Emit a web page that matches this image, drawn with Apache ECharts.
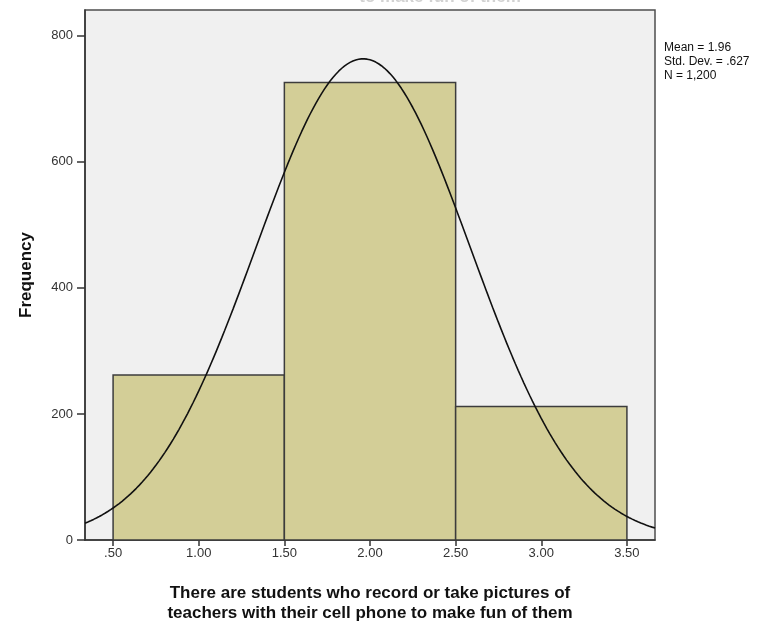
<!DOCTYPE html>
<html>
<head>
<meta charset="utf-8">
<script src="https://cdn.jsdelivr.net/npm/echarts@6/dist/echarts.min.js"></script>
<style>
  html, body { margin: 0; padding: 0; background: #fff; }
  #chart { width: 774px; height: 625px; }
</style>
</head>
<body>
<div id="chart"></div>
<script>
// Histogram bins (lower edge, upper edge) and their frequencies
const binStarts = [0.5, 1.5, 2.5];
const binEnds = [1.5, 2.5, 3.5];
const frequencies = [262, 726, 212];

// Summary statistics shown in the side note
const meanValue = 1.96;
const stdDev = 0.627;
const countN = 1200;

// Axis tick positions
const xTicks = [0.5, 1.0, 1.5, 2.0, 2.5, 3.0, 3.5];
const yTicks = [0, 200, 400, 600, 800];

const FONT = 'Liberation Sans, Arial, sans-serif';
const xMin = 0.336, xMax = 3.664;

// Fitted normal curve scaled to counts (N * bin width * density)
const binWidth = 1;
const curve = [];
for (let i = 0; i <= 200; i++) {
  const x = xMin + (xMax - xMin) * i / 200;
  const z = (x - meanValue) / stdDev;
  curve.push([x, countN * binWidth * Math.exp(-0.5 * z * z) / (stdDev * Math.sqrt(2 * Math.PI))]);
}

const bars = binStarts.map((s, i) => [s, binEnds[i], frequencies[i]]);

const chart = echarts.init(document.getElementById('chart'));
chart.setOption({
  animation: false,
  backgroundColor: '#ffffff',
  title: {
    text: 'to make fun of them',
    left: 435, top: -16, textAlign: 'center',
    textStyle: { fontFamily: FONT, fontSize: 17, fontWeight: 'bold', color: '#d2d2d2' }
  },
  grid: {
    left: 85, right: 119, top: 10, bottom: 85,
    outerBoundsMode: 'none', containLabel: false,
    show: true, backgroundColor: '#f0f0f0', borderColor: '#4d4d4d', borderWidth: 1.5
  },
  xAxis: {
    type: 'value', min: xMin, max: xMax,
    splitLine: { show: false },
    axisLine: { show: true, onZero: false, lineStyle: { color: '#333', width: 1.5 } },
    axisTick: { show: true, customValues: xTicks, length: 6, lineStyle: { color: '#333', width: 1.5 } },
    axisLabel: {
      customValues: xTicks, margin: 7, fontFamily: FONT, fontSize: 13, color: '#333',
      formatter: v => v.toFixed(2).replace(/^0/, '')
    },
    name: 'There are students who record or take pictures of\nteachers with their cell phone to make fun of them',
    nameLocation: 'middle', nameGap: 43,
    nameTextStyle: { fontFamily: FONT, fontSize: 17, fontWeight: 'bold', color: '#111', lineHeight: 20 }
  },
  yAxis: {
    type: 'value', min: 0, max: 841,
    splitLine: { show: false },
    axisLine: { show: true, lineStyle: { color: '#333', width: 1.5 } },
    axisTick: { show: true, customValues: yTicks, length: 8, lineStyle: { color: '#333', width: 1.5 } },
    axisLabel: { customValues: yTicks, margin: 12, fontFamily: FONT, fontSize: 13, color: '#333' },
    name: 'Frequency', nameLocation: 'middle', nameGap: 50, nameRotate: 90,
    nameTextStyle: { fontFamily: FONT, fontSize: 17, fontWeight: 'bold', color: '#111' }
  },
  graphic: [{
    type: 'text', left: 664, top: 41,
    style: {
      text: 'Mean = ' + meanValue.toFixed(2) + '\nStd. Dev. = ' + stdDev.toFixed(3).replace(/^0/, '') +
            '\nN = ' + countN.toLocaleString('en-US'),
      fontFamily: FONT, fontSize: 12, lineHeight: 14, fill: '#111'
    }
  }],
  series: [{
    type: 'custom',
    data: bars,
    encode: { x: [0, 1], y: 2 },
    renderItem: (params, api) => {
      const p0 = api.coord([api.value(0), api.value(2)]);
      const p1 = api.coord([api.value(1), 0]);
      return {
        type: 'rect',
        shape: { x: p0[0], y: p0[1], width: p1[0] - p0[0], height: p1[1] - p0[1] },
        style: { fill: '#d3ce97', stroke: '#3c3c3c', lineWidth: 1.5 }
      };
    }
  }, {
    type: 'line',
    data: curve,
    showSymbol: false,
    smooth: false,
    lineStyle: { color: '#111', width: 1.6 },
    z: 5
  }]
});
</script>
</body>
</html>
